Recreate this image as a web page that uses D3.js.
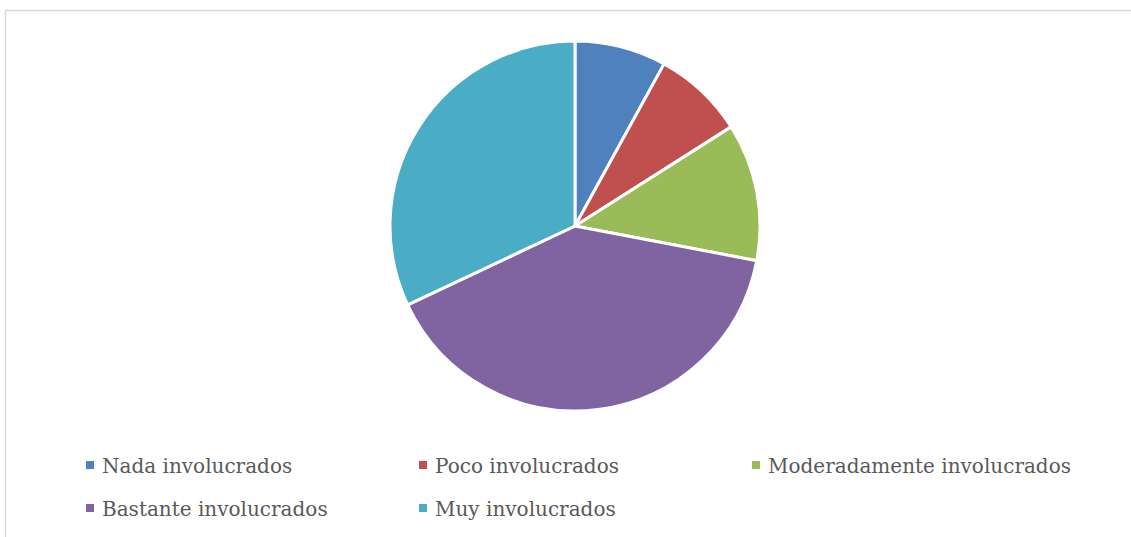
<!DOCTYPE html>
<html>
<head>
<meta charset="utf-8">
<script src="https://cdn.jsdelivr.net/npm/d3@7"></script>
<style>
  body { margin: 0; background: #fff; }
</style>
</head>
<body>
<div id="chart"></div>
<script>
let categories = ["Nada involucrados", "Poco involucrados", "Moderadamente involucrados", "Bastante involucrados", "Muy involucrados"];
let values = [8, 8, 12, 40, 32];
let colors = ["#4F81BD", "#C0504D", "#9BBB59", "#8064A2", "#4BACC6"];

let width = 1131, height = 537;

let svg = d3.select("#chart")
    .append("svg")
    .attr("width", width)
    .attr("height", height);

// chart frame (runs off the right and bottom edges)
svg.append("rect")
    .attr("x", 5.5)
    .attr("y", 10.5)
    .attr("width", 1140)
    .attr("height", 540)
    .attr("fill", "white")
    .style("stroke", "#d9d9d9")
    .style("stroke-width", 1.5);

let pie = d3.pie().sort(null).value(d => d);
let arc = d3.arc().innerRadius(0).outerRadius(185);

let slices = svg.append("g")
    .attr("transform", "translate(575,226)");

slices.selectAll("path")
    .data(pie(values))
    .join("path")
    .attr("d", arc)
    .attr("fill", (d, i) => colors[i])
    .style("stroke", "white")
    .style("stroke-width", 3)
    .style("stroke-linejoin", "round");

// legend, two rows
let colX = [86, 419, 752];
let rowY = [465, 508];

let items = svg.append("g").selectAll("g")
    .data(categories)
    .join("g")
    .attr("transform", (d, i) => `translate(${colX[i % 3]},${rowY[Math.floor(i / 3)]})`);

items.append("rect")
    .attr("x", 0)
    .attr("y", -4)
    .attr("width", 8)
    .attr("height", 8)
    .attr("fill", (d, i) => colors[i]);

items.append("text")
    .attr("x", 16)
    .attr("y", 7.5)
    .style("font-family", "'DejaVu Serif', serif")
    .style("font-size", "20px")
    .style("fill", "#595959")
    .text(d => d);
</script>
</body>
</html>
